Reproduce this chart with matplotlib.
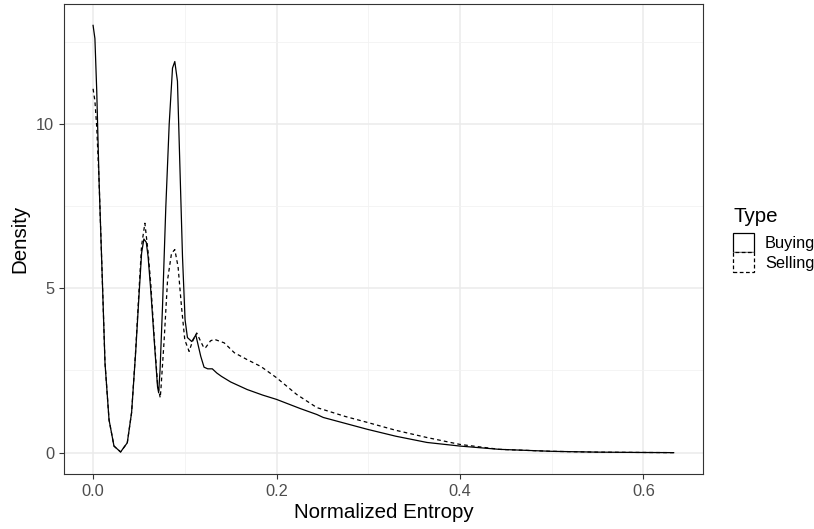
import matplotlib
matplotlib.use("Agg")
import matplotlib.pyplot as plt
from matplotlib.patches import Patch

plt.rcParams['font.family'] = ['Liberation Sans', 'DejaVu Sans']

# values (density curves)
buy_x = [0.000, 0.002, 0.004, 0.0065, 0.0101, 0.013, 0.0174, 0.0228, 0.030, 0.0373,
         0.042, 0.0464, 0.050, 0.0529, 0.0554, 0.058, 0.060, 0.063, 0.0667, 0.0703,
         0.0715, 0.073, 0.0757, 0.0793, 0.083, 0.0866, 0.0891, 0.092, 0.0949, 0.0975,
         0.1003, 0.1029, 0.1076, 0.112, 0.1174, 0.121, 0.125, 0.130, 0.135, 0.140,
         0.150, 0.168, 0.185, 0.200, 0.226, 0.244, 0.251, 0.275, 0.299, 0.330,
         0.364, 0.400, 0.443, 0.500, 0.550, 0.600, 0.633]
buy_y = [13.0, 12.6, 11.0, 8.3, 5.25, 2.73, 1.0, 0.2, 0.02, 0.3,
         1.22, 3.04, 4.75, 6.07, 6.5, 6.4, 5.96, 4.9, 3.4, 2.0,
         1.82, 2.5, 4.44, 7.47, 10.0, 11.7, 11.9, 11.3, 8.48, 5.96,
         4.04, 3.5, 3.38, 3.58, 2.93, 2.6, 2.55, 2.55, 2.42, 2.32,
         2.15, 1.92, 1.75, 1.62, 1.34, 1.16, 1.07, 0.89, 0.71, 0.5,
         0.31, 0.2, 0.1, 0.04, 0.015, 0.005, 0.0]

sell_x = [0.000, 0.002, 0.004, 0.0065, 0.0101, 0.013, 0.0174, 0.0228, 0.030, 0.0373,
          0.042, 0.0464, 0.050, 0.0529, 0.0565, 0.060, 0.063, 0.0667, 0.0703, 0.0732,
          0.0739, 0.0775, 0.0812, 0.0855, 0.0891, 0.0927, 0.0964, 0.100, 0.1047, 0.1083,
          0.113, 0.1174, 0.121, 0.1228, 0.128, 0.132, 0.143, 0.154, 0.168, 0.183,
          0.200, 0.222, 0.244, 0.251, 0.275, 0.299, 0.330, 0.364, 0.400, 0.443,
          0.500, 0.550, 0.600, 0.633]
sell_y = [11.07, 10.7, 9.9, 8.3, 5.25, 2.73, 1.0, 0.2, 0.02, 0.3,
          1.22, 3.1, 4.9, 6.3, 6.98, 6.1, 5.1, 3.5, 2.1, 1.67,
          1.9, 3.43, 5.25, 6.06, 6.18, 5.65, 4.44, 3.43, 3.08, 3.38,
          3.64, 3.38, 3.18, 3.2, 3.4, 3.45, 3.34, 3.04, 2.83, 2.62,
          2.28, 1.77, 1.37, 1.31, 1.1, 0.92, 0.68, 0.46, 0.25, 0.1,
          0.04, 0.015, 0.005, 0.0]

x_ticks = [0.0, 0.2, 0.4, 0.6]
x_labels = ['0.0', '0.2', '0.4', '0.6']
y_ticks = [0, 5, 10]
types = ['Buying', 'Selling']

fig = plt.figure(figsize=(8.14, 5.29), dpi=100)
ax = fig.add_axes([64/814, 1-474/529, (703-64)/814, (474-4)/529])

ax.plot(buy_x, buy_y, color='black', lw=0.9, solid_joinstyle='round')
ax.plot(sell_x, sell_y, color='black', lw=0.9, linestyle=(0, (3, 2.5)))

# ggplot-style 5% expansion
ax.set_xlim(-0.0317, 0.665)
ax.set_ylim(-0.65, 13.65)
ax.set_xticks(x_ticks)
ax.set_xticklabels(x_labels)
ax.set_yticks(y_ticks)
ax.set_xticks([0.1, 0.3, 0.5], minor=True)
ax.set_yticks([2.5, 7.5, 12.5], minor=True)
ax.grid(which='major', color='#EBEBEB', lw=1.1)
ax.grid(which='minor', color='#F2F2F2', lw=0.6)
ax.set_axisbelow(True)
ax.tick_params(which='major', length=3.5, width=0.8, color='#333333',
               labelcolor='#4D4D4D', labelsize=11.8, pad=3.5)
ax.tick_params(which='minor', length=0)
for s in ax.spines.values():
    s.set_color('#333333')
    s.set_linewidth(0.8)

ax.set_xlabel('Normalized Entropy', fontsize=14.8, labelpad=3)
ax.set_ylabel('Density', fontsize=14.8, labelpad=5)

# legend: title drawn separately so the gap above the keys matches
fig.text(733/814, 1-222/529, 'Type', fontsize=14.8, ha='left', va='baseline')
handles = [Patch(facecolor='white', edgecolor='black', lw=0.9, linestyle='-'),
           Patch(facecolor='white', edgecolor='black', lw=0.9, linestyle=(0, (3, 2)))]
leg = fig.legend(handles, types,
                 loc='upper left', bbox_to_anchor=(733/814, 1-233/529),
                 frameon=False, fontsize=11.8,
                 handlelength=1.28, handleheight=1.45, labelspacing=0.0,
                 handletextpad=0.67, borderaxespad=0, borderpad=0)

fig.savefig('out.png', dpi=100)
